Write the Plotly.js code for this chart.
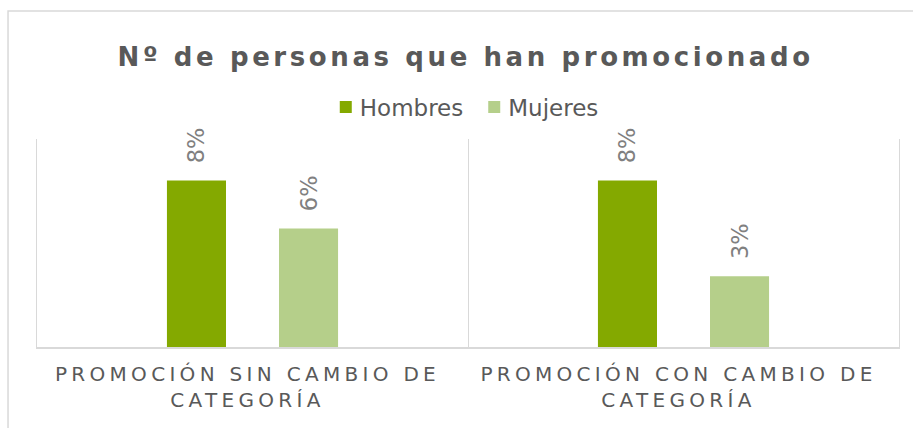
<!DOCTYPE html>
<html>
<head>
<meta charset="utf-8">
<script src="https://cdn.plot.ly/plotly-3.0.1.min.js"></script>
<style>
  html, body { margin: 0; padding: 0; background: #ffffff; }
  #chart { width: 913px; height: 428px; }
  #chart .gtitle { letter-spacing: 3.6px; }
  #chart .xtick text { letter-spacing: 4.3px; }
  #chart .legendtext { transform: translateX(-6px); }
</style>
</head>
<body>
<div id="chart"></div>
<script>
const categories = ["PROMOCIÓN SIN CAMBIO DE<br>CATEGORÍA", "PROMOCIÓN CON CAMBIO DE<br>CATEGORÍA"];
const seriesNames = ["Hombres", "Mujeres"];
const hombres = [0.08, 0.08];
const mujeres = [0.057, 0.034];
const colors = ["#84a900", "#b5cf8a"];

const labelTemplate = "\u00a0\u00a0%{y:.0%}";
const common = {
  type: "bar",
  x: categories,
  texttemplate: labelTemplate,
  textposition: "outside",
  textangle: -90,
  cliponaxis: false,
  textfont: { family: "DejaVu Sans, Verdana, sans-serif", size: 22.5, color: "#808080" },
  hoverinfo: "skip"
};

const data = [
  Object.assign({}, common, { name: seriesNames[0], y: hombres, marker: { color: colors[0] } }),
  Object.assign({}, common, { name: seriesNames[1], y: mujeres, marker: { color: colors[1] } })
];

const layout = {
  width: 913,
  height: 428,
  margin: { l: 37, r: 14, t: 139, b: 81, pad: 0 },
  paper_bgcolor: "#ffffff",
  plot_bgcolor: "rgba(0,0,0,0)",
  font: { family: "DejaVu Sans, Verdana, sans-serif", color: "#595959" },
  title: {
    text: "Nº de personas que han promocionado",
    font: { family: "DejaVu Sans, Verdana, sans-serif", size: 26, color: "#595959", weight: "bold" },
    xref: "container", x: 0.51, xanchor: "center",
    yref: "container", y: 0.866, yanchor: "middle"
  },
  barmode: "group",
  bargap: 0.48,
  bargroupgap: 0.473,
  showlegend: true,
  legend: {
    orientation: "h",
    xref: "paper", x: 0.335, xanchor: "left",
    yref: "paper", y: 1.154, yanchor: "middle",
    font: { family: "DejaVu Sans, Verdana, sans-serif", size: 23, color: "#595959" },
    itemclick: false, itemdoubleclick: false,
    traceorder: "normal"
  },
  xaxis: {
    type: "category",
    tickson: "boundaries",
    showgrid: true,
    gridcolor: "#d9d9d9",
    gridwidth: 1,
    showline: true,
    linecolor: "#d9d9d9",
    linewidth: 2,
    ticks: "",
    ticklabelstandoff: 8,
    ticklabelshift: -5,
    tickfont: { family: "DejaVu Sans, Verdana, sans-serif", size: 20, color: "#595959" },
    fixedrange: true
  },
  yaxis: {
    range: [0, 0.1],
    showgrid: false,
    zeroline: false,
    showticklabels: false,
    showline: true,
    mirror: true,
    linecolor: "#d9d9d9",
    linewidth: 1,
    fixedrange: true
  },
  shapes: [{
    type: "rect", layer: "below",
    xref: "paper", yref: "paper",
    x0: -0.0336, x1: 1.03, y0: -0.5, y1: 1.615,
    line: { color: "#d9d9d9", width: 1.5 },
    fillcolor: "rgba(0,0,0,0)"
  }]
};

Plotly.newPlot("chart", data, layout, { displayModeBar: false, staticPlot: true });
</script>
</body>
</html>
